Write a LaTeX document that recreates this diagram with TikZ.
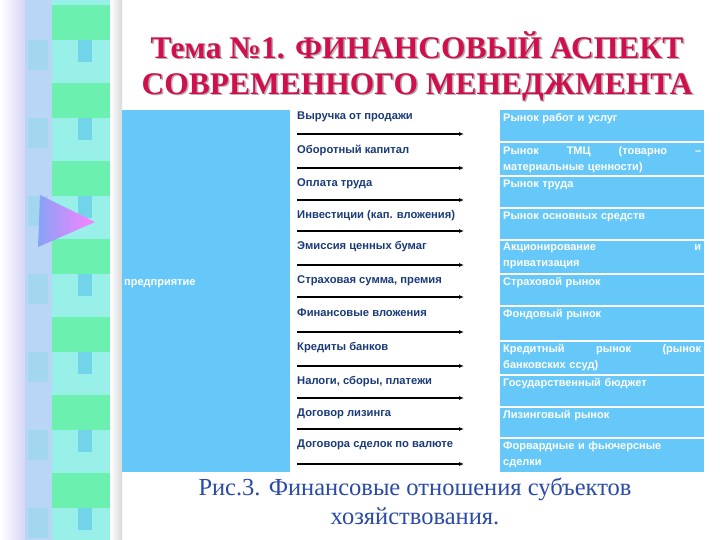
\documentclass[tikz,border=0pt]{standalone}
\usepackage{fontspec}
\setmainfont{Liberation Serif}
\newfontfamily\sansf{Liberation Sans}
\usetikzlibrary{arrows.meta}
\definecolor{boxblue}{HTML}{66C8F8}
\definecolor{labblue}{HTML}{1A3A78}
\definecolor{titred}{HTML}{D0104C}
\definecolor{capblue}{HTML}{2A4AA8}
\definecolor{gA}{HTML}{6CF0B0}
\definecolor{gB}{HTML}{98F0E8}
\definecolor{gC}{HTML}{A8CCF4}
\definecolor{gD}{HTML}{60C8E8}
\tikzset{
 mktext/.style={text=white,font=\sansf\bfseries\fontsize{11}{16}\selectfont,text width=198pt,align=left,anchor=north west,inner sep=0pt},
 lab/.style={text=labblue,font=\sansf\bfseries\fontsize{11.2}{12}\selectfont,anchor=west,inner sep=0pt},
 arr/.style={-{Latex[length=5pt,width=4pt]},line width=1.2pt,black}
}
\begin{document}
\begin{tikzpicture}[x=1pt,y=-1pt]
\useasboundingbox (0,0) rectangle (720,540);
\fill[white] (0,0) rectangle (720,540);
% left decoration
\shade[left color=white,right color=gray!40!blue!20] (0,0) rectangle (25,540);
\fill[gB] (25,0) rectangle (110,540);
\fill[gC!80!white] (25,0) rectangle (52,540);
\foreach \y in {0,78,156,234,312,390,468}{
  \fill[gA] (52,\y+5) rectangle (110,\y+40);
  \fill[gD!70!gB] (78,\y+40) rectangle (92,\y+62);
  \fill[gC!70!gB] (28,\y+40) rectangle (48,\y+70);
}
\shade[left color=gC!80!blue,right color=magenta!50] (40,195) -- (95,222) -- (38,247) -- cycle;
\shade[left color=white,right color=gray!30] (110,0) rectangle (122,540);
% title
\foreach \dx/\c in {1.5/gray!60,0/titred}{
\node[text=\c,font=\fontsize{31.5}{36}\selectfont\bfseries,align=center] (t\dx) at (417+\dx,66+\dx) {Тема №1. ФИНАНСОВЫЙ АСПЕКТ\\СОВРЕМЕННОГО МЕНЕДЖМЕНТА};
}
% enterprise box
\fill[boxblue] (122,110) rectangle (290,472);
\node[text=white,font=\sansf\bfseries\fontsize{11}{12}\selectfont,anchor=west,inner sep=0pt] (ent) at (124,284) {предприятие};
% rows
\foreach \i/\t/\b/\L/\R in {
1/110/142/{Выручка от продажи}/{Рынок работ и услуг},
2/143/176/{Оборотный капитал}/{Рынок\hfill ТМЦ\hfill (товарно\hfill –\\материальные ценности)},
3/177/208/{Оплата труда}/{Рынок труда},
4/209/239/{Инвестиции (кап. вложения)}/{Рынок основных средств},
5/240/273/{Эмиссия ценных бумаг}/{Акционирование\hfill и\\приватизация},
6/274/305/{Страховая сумма, премия}/{Страховой рынок},
7/306/340/{Финансовые вложения}/{Фондовый рынок},
8/341/374/{Кредиты банков}/{Кредитный\hfill рынок\hfill (рынок\\банковских ссуд)},
9/375/406/{Налоги, сборы, платежи}/{Государственный бюджет},
10/407/437/{Договор лизинга}/{Лизинговый рынок},
11/438/472/{Договора сделок по валюте}/{Форвардные и фьючерсные\\сделки}}{
  \fill[boxblue,draw=white,line width=1pt] (499,\t) rectangle (704,\b);
  \node[mktext] (r\i) at (503,\t+3) {\R};
  \node[lab] (l\i) at (297,\t+7) {\L};
  \coordinate (s\i) at (297,\b-8);
  \coordinate (e\i) at (464,\b-8);
  \draw[arr] (s\i) -- (e\i);
}
% caption
\node[text=capblue,font=\fontsize{24.5}{29}\selectfont,align=center] (cap) at (415,501) {Рис.3. Финансовые отношения субъектов\\хозяйствования.};
\end{tikzpicture}
\end{document}
